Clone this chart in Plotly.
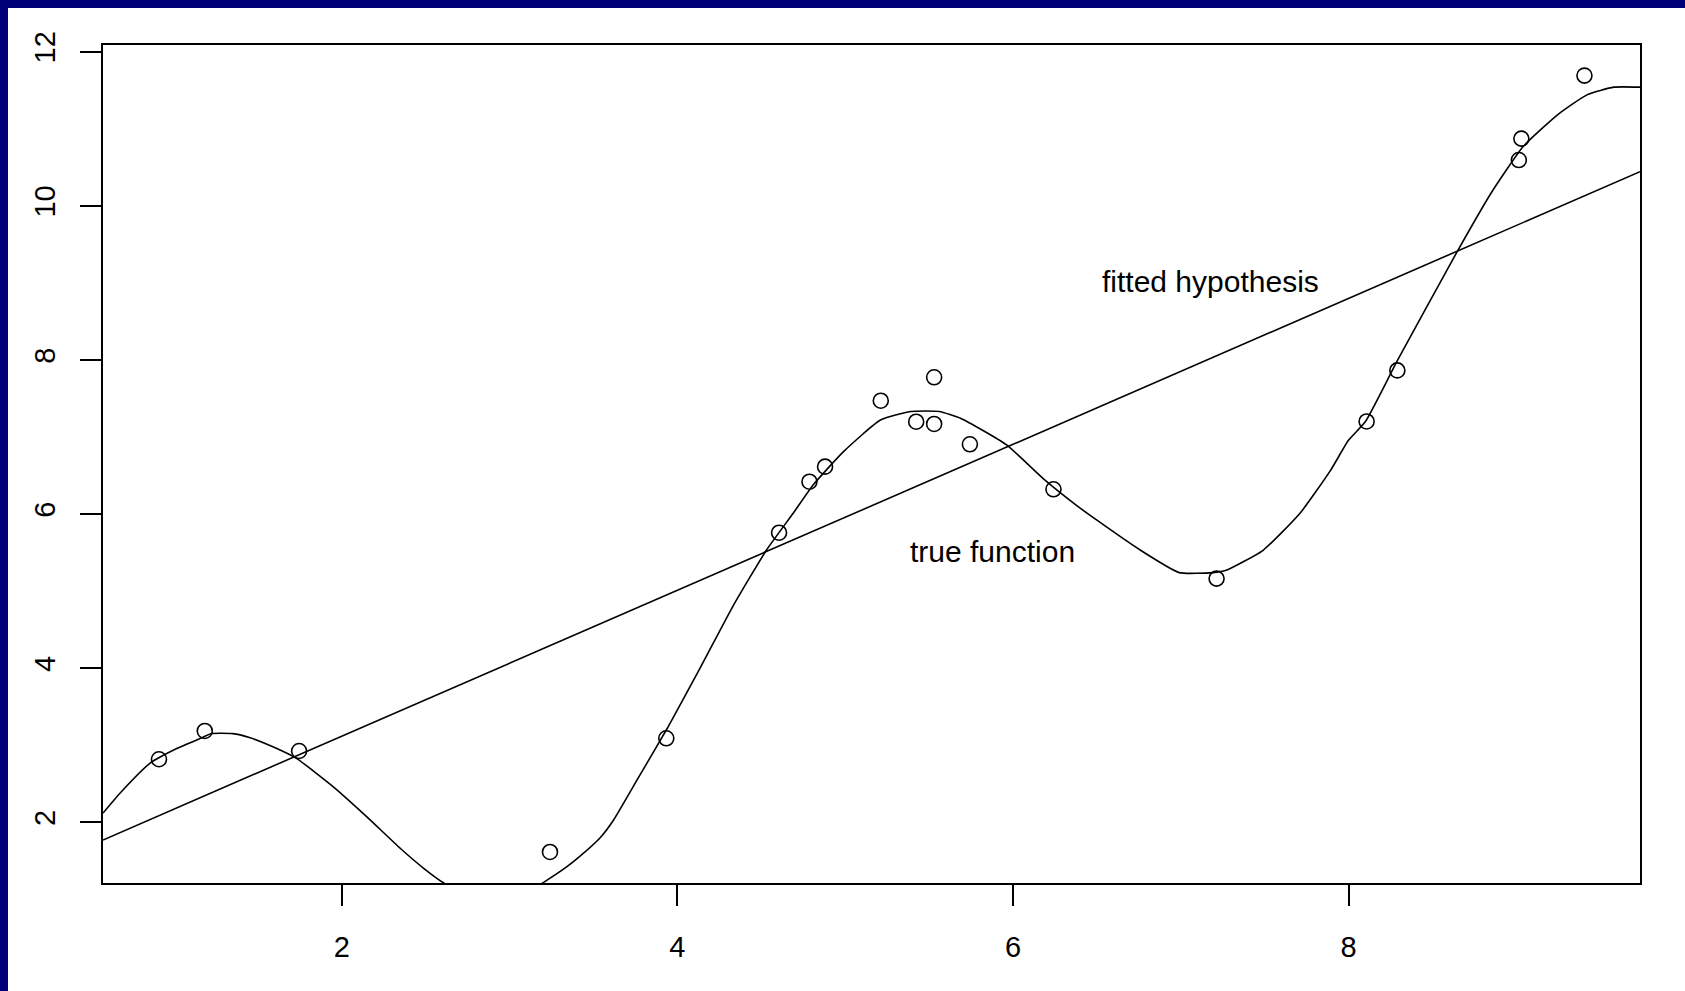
import plotly.graph_objects as go

# Observed samples
obs_x = [0.911, 1.184, 1.746, 3.241, 3.934, 4.606, 4.787, 4.880, 5.212, 5.423,
         5.530, 5.530, 5.743, 6.241, 7.213, 8.107, 8.290, 9.014, 9.029, 9.405]
obs_y = [2.818, 3.185, 2.925, 1.615, 3.090, 5.758, 6.420, 6.615, 7.471, 7.198,
         7.775, 7.169, 6.905, 6.321, 5.162, 7.202, 7.864, 10.594, 10.872, 11.690]

# Underlying smooth curve
curve_x = [0.578, 0.68, 0.86, 1.02, 1.18, 1.22, 1.35, 1.45, 1.59, 1.73, 1.95, 2.15,
           2.35, 2.49, 2.61, 2.75, 2.92, 3.08, 3.21, 3.34, 3.42, 3.54, 3.62, 3.76,
           3.94, 4.14, 4.33, 4.53, 4.69, 4.81, 4.99, 5.21, 5.39, 5.56, 5.69, 5.96,
           6.18, 6.38, 6.50, 6.76, 6.99, 7.19, 7.27, 7.49, 7.71, 7.89, 8.00, 8.10,
           8.29, 8.64, 8.85, 9.04, 9.25, 9.42, 9.58, 9.736]
curve_y = [2.12, 2.38, 2.77, 2.96, 3.11, 3.15, 3.15, 3.10, 2.98, 2.83, 2.46, 2.07,
           1.66, 1.40, 1.21, 1.05, 0.98, 1.06, 1.23, 1.42, 1.56, 1.80, 2.03, 2.55,
           3.22, 4.02, 4.80, 5.53, 6.01, 6.38, 6.81, 7.22, 7.33, 7.33, 7.24, 6.90,
           6.46, 6.11, 5.92, 5.53, 5.24, 5.24, 5.27, 5.53, 6.01, 6.56, 6.96, 7.20,
           7.99, 9.38, 10.17, 10.77, 11.19, 11.44, 11.54, 11.54]

# Least-squares straight line, evaluated at the axis limits
fit_x = [0.5775, 9.736]
fit_y = [1.770, 10.443]

x_ticks = [2, 4, 6, 8]
y_ticks = [2, 4, 6, 8, 10, 12]

x_range = [0.5775, 9.736]
y_range = [1.212, 12.087]

labels = [
    {"text": "fitted hypothesis", "x": 7.175, "y": 9.02},
    {"text": "true function", "x": 5.88, "y": 5.52},
]

font_family = "Liberation Sans, Arial, sans-serif"
navy = "#000078"

fig = go.Figure()
fig.add_trace(go.Scatter(x=fit_x, y=fit_y, mode="lines",
                         line=dict(color="black", width=1.6), hoverinfo="skip"))
fig.add_trace(go.Scatter(x=curve_x, y=curve_y, mode="lines",
                         line=dict(color="black", width=1.6, shape="spline",
                                   smoothing=0.5),
                         hoverinfo="skip"))
fig.add_trace(go.Scatter(x=obs_x, y=obs_y, mode="markers",
                         marker=dict(symbol="circle-open", size=15,
                                     color="black", line=dict(width=1.6)),
                         cliponaxis=True))

for lab in labels:
    fig.add_annotation(x=lab["x"], y=lab["y"], text=lab["text"], showarrow=False,
                       xanchor="center", yanchor="middle",
                       font=dict(family=font_family, size=30, color="black"))

# Dark frame strips along the top and left edges of the page
fig.add_shape(type="rect", xref="paper", yref="paper",
              x0=-0.08, x1=1.05, y0=(883 - 8) / 838, y1=1.08,
              fillcolor=navy, line=dict(width=0), layer="above")
fig.add_shape(type="rect", xref="paper", yref="paper",
              x0=-0.08, x1=(8 - 103) / 1537, y0=-0.15, y1=1.08,
              fillcolor=navy, line=dict(width=0), layer="above")

axis_common = dict(
    showgrid=False, zeroline=False, showline=True, mirror=True,
    linecolor="black", linewidth=2, ticks="outside", ticklen=21,
    tickwidth=2, tickcolor="black",
    tickfont=dict(family=font_family, size=29, color="black"),
)

fig.update_xaxes(range=x_range, tickvals=x_ticks, ticklabelstandoff=16,
                 **axis_common)
fig.update_yaxes(range=y_range, tickvals=y_ticks, tickangle=-90,
                 ticklabelstandoff=13, **axis_common)

fig.update_layout(
    width=1685, height=991,
    margin=dict(l=103, r=45, t=45, b=108),
    paper_bgcolor="white", plot_bgcolor="white",
    showlegend=False,
)

fig.write_html("out.html")
